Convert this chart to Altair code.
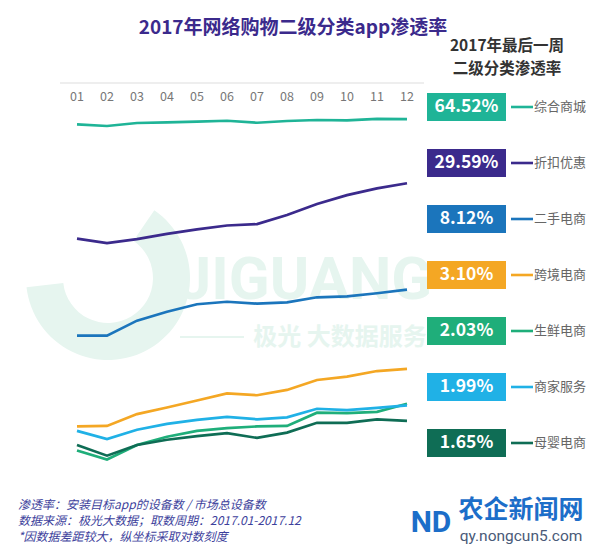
import altair as alt
import pandas as pd

months = ["01", "02", "03", "04", "05", "06", "07", "08", "09", "10", "11", "12"]
series_names = ["综合商城", "折扣优惠", "二手电商", "跨境电商", "生鲜电商", "商家服务", "母婴电商"]
series_colors = ["#1fb497", "#3b2a8c", "#1b75bc", "#f4a724", "#1fae7a", "#20b1e6", "#0f6d55"]

zonghe = [60.5, 59.3, 61.5, 62.0, 62.5, 63.2, 61.7, 63.0, 63.8, 63.5, 64.6, 64.52]
zhekou = [15.1, 14.3, 15.0, 16.0, 16.9, 17.7, 18.0, 20.1, 23.0, 25.6, 27.8, 29.59]
ershou = [4.64, 4.64, 5.57, 6.21, 6.80, 7.01, 6.85, 6.96, 7.40, 7.49, 7.77, 8.12]
kuajing = [1.54, 1.55, 1.79, 1.94, 2.11, 2.30, 2.25, 2.40, 2.71, 2.82, 3.02, 3.10]
shengxian = [1.15, 1.03, 1.23, 1.36, 1.46, 1.51, 1.54, 1.55, 1.82, 1.81, 1.84, 2.03]
shangjia = [1.46, 1.32, 1.48, 1.59, 1.67, 1.73, 1.68, 1.72, 1.91, 1.88, 1.93, 1.99]
muying = [1.23, 1.08, 1.23, 1.31, 1.37, 1.42, 1.34, 1.43, 1.61, 1.61, 1.68, 1.65]

final_labels = ["64.52%", "29.59%", "8.12%", "3.10%", "2.03%", "1.99%", "1.65%"]

title_text = "2017年网络购物二级分类app渗透率"
subtitle_lines = ["2017年最后一周", "二级分类渗透率"]
footnotes = ["渗透率：安装目标app的设备数 / 市场总设备数",
             "数据来源：极光大数据；取数周期：2017.01-2017.12",
             "*因数据差距较大，纵坐标采取对数刻度"]

all_values = [zonghe, zhekou, ershou, kuajing, shengxian, shangjia, muying]
rows = []
for name, vals in zip(series_names, all_values):
    for m, v in zip(months, vals):
        rows.append({"series": name, "month": m, "value": v})
df = pd.DataFrame(rows)

FONT = "Noto Sans CJK SC"
color_scale = alt.Scale(domain=series_names, range=series_colors)
x_scale = alt.Scale(type="point", padding=0.5, domain=months)
y_scale = alt.Scale(type="log", domain=[1, 100], nice=False)


def text_chart(txt, x, y, **kw):
    kw.setdefault("font", FONT)
    return alt.Chart(pd.DataFrame({"t": [txt]})).mark_text(**kw).encode(
        text="t:N", x=alt.value(x), y=alt.value(y))


# faint watermark
WM = "#e6f5ef"
wm1 = text_chart("JIGUANG", 243, 198, fontSize=60, fontWeight="bold", color=WM, font="Roboto")
wm2 = text_chart("极光 大数据服务", 278, 255, fontSize=24, fontWeight="bold", color=WM)
wm_line = alt.Chart(pd.DataFrame({"a": [0]})).mark_rule(color=WM, strokeWidth=2).encode(
    x=alt.value(118), x2=alt.value(182), y=alt.value(254))
wm_arc = alt.Chart(pd.DataFrame({"a": [1]})).mark_arc(
    color=WM, innerRadius=45, outerRadius=82, theta=0.6, theta2=4.6).encode(
    x=alt.value(46), y=alt.value(195))

top_rule = alt.Chart(pd.DataFrame({"v": [100]})).mark_rule(color="#dddddd", strokeWidth=1).encode(
    y=alt.Y("v:Q", scale=y_scale, axis=None), x=alt.value(-2), x2=alt.value(362))

lines = alt.Chart(df).mark_line(strokeWidth=2.7).encode(
    x=alt.X("month:O", scale=x_scale, axis=None),
    y=alt.Y("value:Q", scale=y_scale,
            axis=alt.Axis(values=[1, 10, 100], labelExpr="format(datum.value, '.1f') + '%'",
                          grid=False, domain=False, ticks=False, labelPadding=12,
                          labelColor="#777777", labelFontSize=12.5, labelFont=FONT, title=None)),
    color=alt.Color("series:N", scale=color_scale, legend=None),
    order="month:O",
)

month_text = alt.Chart(pd.DataFrame({"month": months})).mark_text(
    font=FONT, fontSize=12.5, color="#777777").encode(
    x=alt.X("month:O", scale=x_scale, axis=None), y=alt.value(14), text="month:N")

main = alt.layer(wm_arc, wm_line, wm1, wm2, top_rule, lines, month_text)

leg_df = pd.DataFrame({"series": series_names, "label": final_labels, "rank": list(range(7))})
leg_base = alt.Chart(leg_df).transform_calculate(
    yc="24 + datum.rank * 56", y1="10 + datum.rank * 56", y2="38 + datum.rank * 56")
boxes = leg_base.mark_rect().encode(
    x=alt.value(365), x2=alt.value(444),
    y=alt.Y("y1:Q", scale=None, axis=None), y2="y2:Q",
    color=alt.Color("series:N", scale=color_scale, legend=None))
box_text = leg_base.mark_text(font=FONT, fontSize=17.5, fontWeight="bold", color="white").encode(
    x=alt.value(404.5), y=alt.Y("yc:Q", scale=None, axis=None), text="label:N")
seg = leg_base.mark_rule(strokeWidth=2.6).encode(
    x=alt.value(449), x2=alt.value(471), y=alt.Y("yc:Q", scale=None, axis=None),
    color=alt.Color("series:N", scale=color_scale, legend=None))
names = leg_base.mark_text(font=FONT, fontSize=13, color="#666666", align="left").encode(
    x=alt.value(472), y=alt.Y("yc:Q", scale=None, axis=None), text="series:N")

legend = alt.layer(boxes, box_text, seg, names)

title = text_chart(title_text, 231, -55, fontSize=19, fontWeight="bold", color="#3b2a8c")
sub1 = text_chart(subtitle_lines[0], 445, -37, fontSize=15.5, fontWeight="bold", color="#333333")
sub2 = text_chart(subtitle_lines[1], 445, -14, fontSize=15.5, fontWeight="bold", color="#333333")
fn = [text_chart(t, -44, 422 + 16 * i, fontSize=12, fontStyle="italic", align="left", color="#3d3f9c")
      for i, t in enumerate(footnotes)]
logo1 = text_chart("ND", 369, 440, fontSize=30, fontWeight="bold", color="#1c6ec9", font="Roboto")
logo2 = text_chart("农企新闻网", 459, 427, fontSize=25, fontWeight="bold", color="#1c6ec9")
logo3 = text_chart("qy.nongcun5.com", 459, 453, fontSize=15.5, color="#4a5a78", font="Roboto")

texts = alt.layer(title, sub1, sub2, *fn, logo1, logo2, logo3)

chart = alt.layer(main, legend, texts).resolve_scale(y="independent").properties(
    width=360, height=379,
    autosize=alt.AutoSizeParams(type="none"),
    padding={"left": 54, "top": 75, "right": 170, "bottom": 86},
).configure_view(stroke=None)

chart.save("out.html", embed_options={"renderer": "svg", "actions": False})
